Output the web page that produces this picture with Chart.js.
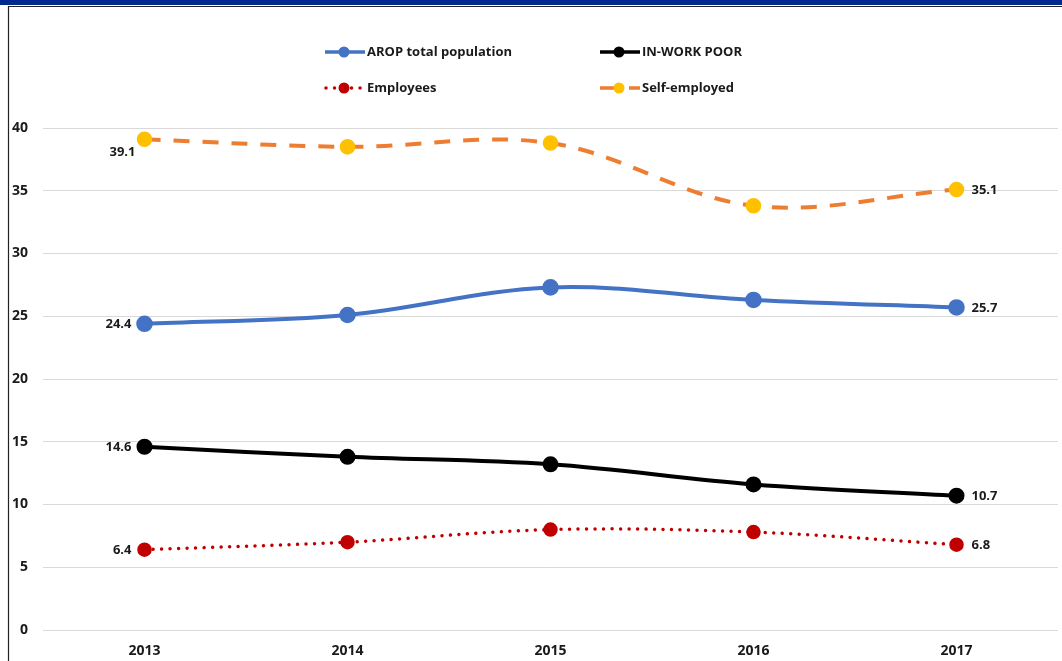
<!DOCTYPE html>
<html>
<head>
<meta charset="utf-8">
<script src="https://cdn.jsdelivr.net/npm/chart.js@4.4.1/dist/chart.umd.min.js"></script>
<style>
  html, body { margin: 0; padding: 0; background: #ffffff; overflow: hidden; }
  #wrap { position: relative; width: 1062px; height: 661px; }
  canvas { display: block; }
</style>
</head>
<body>
<div id="wrap"><canvas id="chart" width="1062" height="661"></canvas></div>
<script>
// Poverty rates, %
const years = ['2013', '2014', '2015', '2016', '2017'];
const aropTotal = [24.4, 25.1, 27.3, 26.3, 25.7];
const inWorkPoor = [14.6, 13.8, 13.2, 11.6, 10.7];
const employees = [6.4, 7.0, 8.0, 7.8, 6.8];
const selfEmployed = [39.1, 38.5, 38.8, 33.8, 35.1];
const seriesNames = ['AROP total population', 'IN-WORK POOR', 'Employees', 'Self-employed'];
const yMin = 0, yMax = 40, yStep = 5;

const FONT = '"Open Sans", Lato, sans-serif';
const TEXT = '#1a1a1a';

// Page frame: navy band along the top, thin dark rules on top and left
const framePlugin = {
  id: 'frame',
  afterDraw(chart) {
    const ctx = chart.ctx;
    ctx.save();
    ctx.fillStyle = '#00298f';
    ctx.fillRect(0, 0, chart.width, 5);
    ctx.strokeStyle = '#222222';
    ctx.lineWidth = 1.2;
    ctx.beginPath();
    ctx.moveTo(8, 6.5);
    ctx.lineTo(chart.width, 6.5);
    ctx.moveTo(8.5, 6);
    ctx.lineTo(8.5, chart.height);
    ctx.stroke();
    ctx.restore();
  }
};

// Legend in two rows of two, each sample a short line with its marker
const legendPlugin = {
  id: 'twoRowLegend',
  afterDraw(chart) {
    const ctx = chart.ctx;
    const slots = [
      { x: 325, y: 52 }, { x: 600, y: 52 },
      { x: 325, y: 88 }, { x: 600, y: 88 }
    ];
    ctx.save();
    chart.data.datasets.forEach((ds, i) => {
      const s = slots[i];
      const w = 40;
      const cx = s.x + 19;
      ctx.strokeStyle = ds.borderColor;
      ctx.lineWidth = ds.legendLineWidth;
      ctx.lineCap = ds.borderCapStyle || 'butt';
      ctx.setLineDash(ds.legendDash || []);
      ctx.lineDashOffset = ds.legendDashOffset || 0;
      ctx.beginPath();
      ctx.moveTo(s.x, s.y);
      ctx.lineTo(s.x + w, s.y);
      ctx.stroke();
      ctx.setLineDash([]);
      ctx.fillStyle = ds.pointBackgroundColor;
      ctx.beginPath();
      ctx.arc(cx, s.y, 5.5, 0, Math.PI * 2);
      ctx.fill();
      ctx.fillStyle = TEXT;
      ctx.font = 'bold 13px ' + FONT;
      ctx.textAlign = 'left';
      ctx.textBaseline = 'middle';
      ctx.fillText(ds.label, s.x + 42, s.y);
    });
    ctx.restore();
  }
};

// Value labels on the first and last point of each series
const endLabelPlugin = {
  id: 'endLabels',
  afterDatasetsDraw(chart) {
    const ctx = chart.ctx;
    ctx.save();
    ctx.font = 'bold 13px ' + FONT;
    ctx.fillStyle = TEXT;
    ctx.textBaseline = 'middle';
    chart.data.datasets.forEach((ds, i) => {
      const pts = chart.getDatasetMeta(i).data;
      const first = pts[0], last = pts[pts.length - 1];
      const v0 = ds.data[0], v1 = ds.data[ds.data.length - 1];
      ctx.textAlign = 'right';
      ctx.fillText(v0.toFixed(1), first.x - (ds.firstLabelBelow ? 9 : 13), first.y + (ds.firstLabelBelow ? 13 : 1));
      ctx.textAlign = 'left';
      ctx.fillText(v1.toFixed(1), last.x + 15, last.y + 1);
    });
    ctx.restore();
  }
};

const chart = new Chart(document.getElementById('chart'), {
  type: 'line',
  data: {
    labels: years,
    datasets: [
      {
        label: seriesNames[0],
        data: aropTotal,
        borderColor: '#4472c4',
        backgroundColor: '#4472c4',
        pointBackgroundColor: '#4472c4',
        pointBorderColor: '#4472c4',
        borderWidth: 4,
        legendLineWidth: 3.5,
        pointRadius: 6.3
      },
      {
        label: seriesNames[1],
        data: inWorkPoor,
        borderColor: '#000000',
        backgroundColor: '#000000',
        pointBackgroundColor: '#000000',
        pointBorderColor: '#000000',
        borderWidth: 4,
        legendLineWidth: 3.5,
        pointRadius: 6
      },
      {
        label: seriesNames[2],
        data: employees,
        borderColor: '#c00000',
        backgroundColor: '#c00000',
        pointBackgroundColor: '#c00000',
        pointBorderColor: '#c00000',
        borderWidth: 3.5,
        borderDash: [0.01, 8.5],
        borderCapStyle: 'round',
        legendLineWidth: 3.5,
        legendDash: [0.01, 8.5],
        legendDashOffset: -1,
        pointRadius: 5.5
      },
      {
        label: seriesNames[3],
        data: selfEmployed,
        borderColor: '#ed7d31',
        backgroundColor: '#ffc000',
        pointBackgroundColor: '#ffc000',
        pointBorderColor: '#ffc000',
        borderWidth: 4,
        borderDash: [16, 13],
        legendLineWidth: 3.5,
        legendDash: [16, 13],
        legendDashOffset: 0,
        pointRadius: 5.8,
        firstLabelBelow: true
      }
    ]
  },
  options: {
    responsive: false,
    animation: false,
    devicePixelRatio: 1,
    layout: { autoPadding: false, padding: { top: 128, right: 4, left: 0, bottom: 0 } },
    elements: {
      line: { tension: 0.35, fill: false },
      point: { borderWidth: 0, hoverRadius: 6 }
    },
    plugins: {
      legend: { display: false },
      tooltip: { enabled: false },
      title: { display: false }
    },
    scales: {
      x: {
        offset: true,
        grid: { display: false, drawTicks: false },
        border: { display: false },
        ticks: {
          padding: 13,
          color: TEXT,
          font: { family: FONT, size: 14, weight: 'bold' }
        },
        afterFit(scale) {
          scale.height = 31;
          scale.paddingLeft = 0;
          scale.paddingRight = 0;
        }
      },
      y: {
        min: yMin,
        max: yMax,
        grid: { color: '#d9d9d9', lineWidth: 1, drawTicks: false },
        border: { display: false },
        ticks: {
          stepSize: yStep,
          padding: 15,
          color: TEXT,
          font: { family: FONT, size: 14, weight: 'bold' }
        },
        afterFit(scale) { scale.width = 43; }
      }
    }
  },
  plugins: [endLabelPlugin, legendPlugin, framePlugin]
});
</script>
</body>
</html>
